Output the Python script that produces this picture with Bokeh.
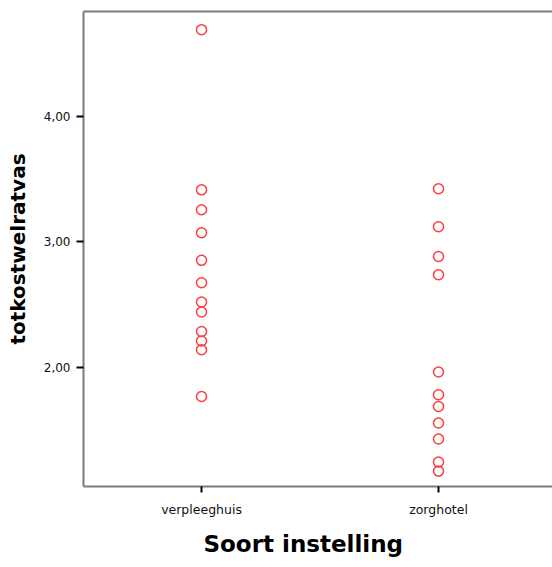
from bokeh.plotting import figure
from bokeh.models import FixedTicker, LinearAxis, Range1d, ColumnDataSource, Title
from bokeh.embed import file_html
from bokeh.resources import INLINE

categories = ["verpleeghuis", "zorghotel"]
verpleeghuis = [4.694, 3.415, 3.256, 3.072, 2.852, 2.673, 2.519, 2.439, 2.284, 2.208, 2.138, 1.765]
zorghotel = [3.424, 3.120, 2.883, 2.737, 1.960, 1.779, 1.685, 1.553, 1.425, 1.241, 1.169]
y_ticks = [2, 3, 4]
y_tick_labels = ["2,00", "3,00", "4,00"]
x_title = "Soort instelling"
y_title = "totkostwelratvas"

series = [verpleeghuis, zorghotel]
xs, ys = [], []
for i, vals in enumerate(series):
    xs += [i + 1] * len(vals)
    ys += vals
src = ColumnDataSource(dict(x=xs, y=ys))

p = figure(width=552, height=567, output_backend="svg", toolbar_location=None,
           x_range=Range1d(0.502, 2.481), y_range=Range1d(1.046, 4.839),
           min_border_left=83, min_border_right=0, min_border_top=11, min_border_bottom=81,
           background_fill_color="white", border_fill_color="white")
p.outline_line_color = None
p.xgrid.visible = False
p.ygrid.visible = False

p.scatter("x", "y", source=src, marker="circle", size=10, fill_color=None,
          line_color="#ff3b3b", line_width=1.5)

axis_gray = "#7a7a7a"
font = "DejaVu Sans"

xa = p.xaxis[0]
xa.ticker = FixedTicker(ticks=list(range(1, len(categories) + 1)))
xa.major_label_overrides = {i + 1: c for i, c in enumerate(categories)}
xa.axis_line_color = axis_gray
xa.axis_line_width = 2
xa.major_tick_line_color = "black"
xa.major_tick_line_width = 2
xa.major_tick_in = 0
xa.major_tick_out = 6
xa.minor_tick_line_color = None
xa.major_label_text_font = font
xa.major_label_text_font_size = "12.5px"
xa.major_label_text_color = "#111111"
xa.major_label_standoff = 9

ya = p.yaxis[0]
ya.ticker = FixedTicker(ticks=y_ticks)
ya.major_label_overrides = {t: l for t, l in zip(y_ticks, y_tick_labels)}
ya.axis_line_color = axis_gray
ya.axis_line_width = 2
ya.major_tick_line_color = "black"
ya.major_tick_line_width = 2
ya.major_tick_in = 0
ya.major_tick_out = 7
ya.minor_tick_line_color = None
ya.major_label_text_font = font
ya.major_label_text_font_size = "12px"
ya.major_label_text_color = "#111111"
ya.major_label_standoff = 6
ya.axis_label = y_title
ya.axis_label_text_font = font
ya.axis_label_text_font_style = "bold"
ya.axis_label_text_font_size = "20px"
ya.axis_label_text_color = "black"
ya.axis_label_standoff = 11

# top frame line drawn by a bare axis
top = LinearAxis(ticker=FixedTicker(ticks=[]), axis_line_color=axis_gray, axis_line_width=2,
                 major_tick_line_color=None, minor_tick_line_color=None,
                 major_label_text_font_size="0px", major_label_standoff=0,
                 major_tick_out=0, major_tick_in=0)
p.add_layout(top, "above")

xt = Title(text=x_title, align="left", offset=120, text_font=font, text_font_style="bold",
           text_font_size="23px", text_color="black", standoff=19)
p.add_layout(xt, "below")

open("out.html", "w").write(file_html(p, INLINE))
